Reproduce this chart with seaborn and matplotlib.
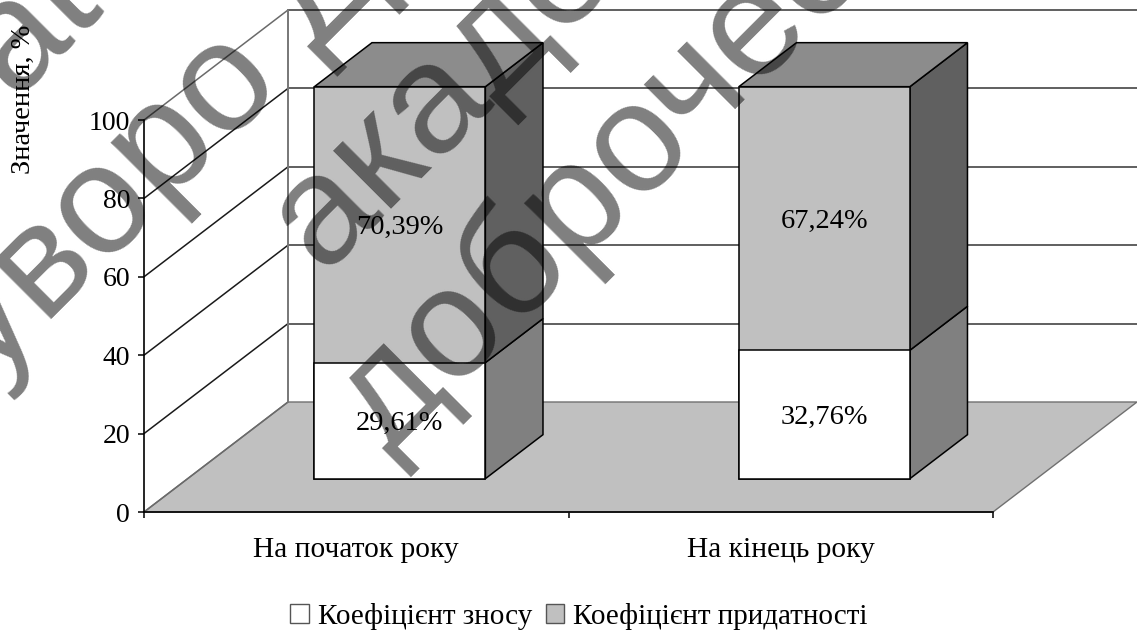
import matplotlib
matplotlib.use("Agg")
import matplotlib.pyplot as plt
import seaborn as sns
from matplotlib.patches import Patch, Polygon
from matplotlib.transforms import Affine2D, IdentityTransform

categories = ["На початок року", "На кінець року"]
wear = [29.61, 32.76]
fitness = [70.39, 67.24]
series_names = ["Коефіцієнт зносу", "Коефіцієнт придатності"]
y_ticks = [0, 20, 40, 60, 80, 100]
y_label = "Значення, %"

W, H = 1137, 631
sns.set_theme(style="white")
plt.rcParams["font.family"] = ["Liberation Serif", "DejaVu Serif"]
fig = plt.figure(figsize=(W / 100, H / 100), dpi=100, facecolor="white")
ax = fig.add_axes([144 / W, (H - 512) / H, 849 / W, 392 / H])
ax.patch.set_alpha(0)

DX, DY = 144, 110          # full depth of the box in pixels
D_FRONT, D_BACK = 0.303, 0.703
BAR_W = 171 / (849 / 2)
FS = 20

def depth(d, extra_y=0):
    return ax.transData + Affine2D().translate(DX * d, DY * d + extra_y)

totals = [a + b for a, b in zip(wear, fitness)]
sns.barplot(x=categories, y=totals, color="#c0c0c0", saturation=1, width=BAR_W,
            edgecolor="black", linewidth=1.1, ax=ax, zorder=3)
sns.barplot(x=categories, y=wear, color="white", saturation=1, width=BAR_W,
            edgecolor="black", linewidth=1.1, ax=ax, zorder=3)
ax.set_xlim(-0.5, 1.5)
ax.set_ylim(0, 100)
for p in ax.patches:
    p.set_transform(depth(D_FRONT))
    p.set_clip_on(False)

def pt(x, y, d):
    px, py = ax.transData.transform((x, y))
    return (px + DX * d, py + DY * d)

def poly(points, fc, ec="black", lw=1.1, z=2):
    ax.add_patch(Polygon(points, closed=True, facecolor=fc, edgecolor=ec, linewidth=lw,
                         transform=IdentityTransform(), clip_on=False, zorder=z))

# floor
poly([pt(-0.5, 0, 0), pt(1.5, 0, 0), pt(1.5, 0, 1), pt(-0.5, 0, 1)], "#c0c0c0", ec="#707070", lw=1.0, z=1)

# walls: gridlines
for v in y_ticks:
    c = "#6a6a6a" if v in (0, 100) else "#1a1a1a"
    a, b = pt(-0.5, v, 0), pt(-0.5, v, 1)
    ax.plot([a[0], b[0]], [a[1], b[1]], color=c, lw=1.1, transform=IdentityTransform(),
            clip_on=False, zorder=1.5)
    if v > 0:
        ax.plot([-0.5, 1.5], [v, v], color="#5f5f5f", lw=1.4, transform=depth(1),
                clip_on=False, zorder=1.5)
ax.plot([-0.5, -0.5], [0, 100], color="#777777", lw=1.4, transform=depth(1), clip_on=False, zorder=1.5)

# 3D sides and tops of the bars
for i, (lo, hi) in enumerate(zip(wear, totals)):
    xr = i + BAR_W / 2
    xl = i - BAR_W / 2
    poly([pt(xr, 0, D_FRONT), pt(xr, 0, D_BACK), pt(xr, lo, D_BACK), pt(xr, lo, D_FRONT)], "#808080")
    poly([pt(xr, lo, D_FRONT), pt(xr, lo, D_BACK), pt(xr, hi, D_BACK), pt(xr, hi, D_FRONT)], "#606060")
    poly([pt(xl, hi, D_FRONT), pt(xr, hi, D_FRONT), pt(xr, hi, D_BACK), pt(xl, hi, D_BACK)], "#8c8c8c")
    ax.text(i, lo / 2, f"{lo:.2f}%".replace(".", ","), transform=depth(D_FRONT, -3), ha="center",
            va="center", fontsize=20.4, color="black", zorder=5)
    ax.text(i, lo + (hi - lo) / 2, f"{hi - lo:.2f}%".replace(".", ","), transform=depth(D_FRONT, -3),
            ha="center", va="center", fontsize=20.4, color="black", zorder=5)

# axes furniture
sns.despine(ax=ax, top=True, right=True)
for s in ("left", "bottom"):
    ax.spines[s].set_color("black")
    ax.spines[s].set_linewidth(1.2)
    ax.spines[s].set_zorder(4)
ax.set_yticks(y_ticks)
ax.set_yticklabels([str(v) for v in y_ticks], fontsize=FS, color="black")
ax.set_xticks([-0.5, 0.5, 1.5])
ax.set_xticklabels(["", "", ""])
ax.set_xticks([0, 1], labels=categories, minor=True)
ax.tick_params(axis="x", which="major", length=4.5, width=1.1, color="black", bottom=True)
ax.tick_params(axis="x", which="minor", length=0, pad=18, labelsize=21.2, labelcolor="black", bottom=True)
ax.tick_params(axis="y", length=4.5, width=1.1, color="black", pad=5.5, left=True)
ax.set_xlabel("")
ax.set_ylabel("")
fig.text(23 / W, 1 - 99 / H, y_label, rotation=90, ha="center", va="center", fontsize=20.5, color="black")

handles = [Patch(facecolor="white", edgecolor="#555555", label=series_names[0]),
           Patch(facecolor="#c0c0c0", edgecolor="#555555", label=series_names[1])]
fig.legend(handles=handles, loc="center", bbox_to_anchor=(579 / W, 1 - 616 / H), ncol=2, frameon=False,
           fontsize=21, handlelength=0.62, handleheight=0.62, handletextpad=0.31, columnspacing=0.48,
           labelcolor="black", borderpad=0)

# translucent diagonal watermark
wm_font = ["Liberation Sans", "DejaVu Sans"]
for txt, x, y in [("at", 13, 98), ("уворо Д", -11, 381), ("акаде", 321, 272), ("доброчес", 388, 455)]:
    fig.text(x / W, 1 - y / H, txt, rotation=45, rotation_mode="anchor", ha="left", va="baseline",
             fontsize=112, color="black", alpha=0.5, family=wm_font)

fig.savefig("out.png", dpi=100, facecolor="white")
